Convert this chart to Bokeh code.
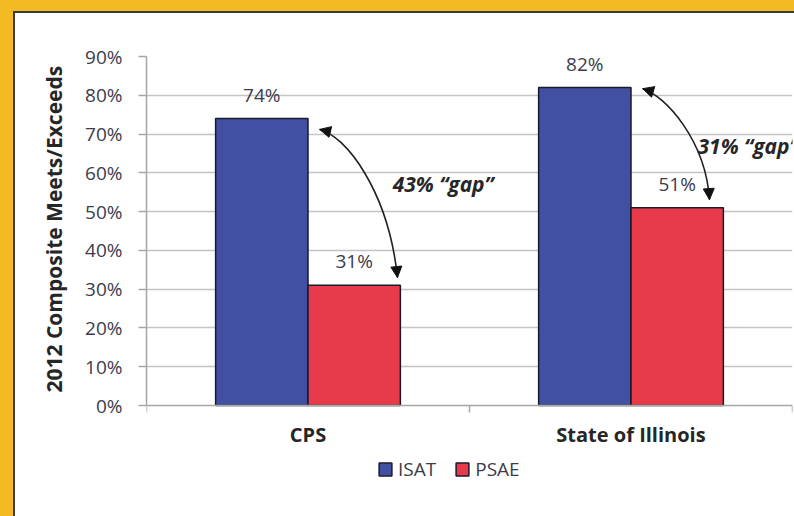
from bokeh.plotting import figure
from bokeh.models import (Range1d, FixedTicker, NumeralTickFormatter, ColumnDataSource,
                          Legend, LegendItem, Arrow, NormalHead, Title)
from bokeh.core.properties import value
from bokeh.embed import file_html
from bokeh.resources import INLINE

# ---- data ----
categories = ["CPS", "State of Illinois"]
series_names = ["ISAT", "PSAE"]
isat = [0.74, 0.82]
psae = [0.31, 0.51]
y_ticks = [0.0, 0.1, 0.2, 0.3, 0.4, 0.5, 0.6, 0.7, 0.8, 0.9]
y_title = "2012 Composite Meets/Exceeds"

# ---- styling ----
FONT = "Open Sans"
TXT = "#3c3c4c"
BLUE = "#4150a2"
RED = "#e83a4a"
YELLOW = "#f4ba24"
DARK = "#3a3a3a"
BW = 0.286          # bar width in category units
Y_LOW = -0.2862     # room below the 0 line (category labels + legend) inside the frame

centers = [i + 0.5 for i in range(len(categories))]
x_isat = [c - BW / 2 for c in centers]
x_psae = [c + BW / 2 for c in centers]

p = figure(width=779, height=503, output_backend="svg", toolbar_location=None,
           x_range=Range1d(0, 2), y_range=Range1d(Y_LOW, y_ticks[-1]),
           min_border_left=131, min_border_right=2, min_border_top=43, min_border_bottom=0)
p.outline_line_color = None
p.background_fill_color = "white"
p.border_fill_color = "white"
p.styles = {
    "transform": "translate(15px, 13px)",
    "box-shadow": (f"-2px -2px 0 0 {DARK}, 0 -2px 0 0 {DARK}, -2px 2px 0 0 {DARK}, "
                   f"-15px -13px 0 0 {YELLOW}, 0 -13px 0 0 {YELLOW}, -15px 0 0 0 {YELLOW}"),
}

# bars
src_i = ColumnDataSource(dict(x=x_isat, top=isat, lab=[f"{round(v*100)}%" for v in isat]))
src_p = ColumnDataSource(dict(x=x_psae, top=psae, lab=[f"{round(v*100)}%" for v in psae]))
r_i = p.vbar(x="x", top="top", bottom=0, width=BW, source=src_i, fill_color=BLUE,
             line_color="#1a1a2a", line_width=1.5)
r_p = p.vbar(x="x", top="top", bottom=0, width=BW, source=src_p, fill_color=RED,
             line_color="#1a1a2a", line_width=1.5)

for s in (src_i, src_p):
    p.text(x="x", y="top", text="lab", source=s, text_align="center", text_baseline="middle",
           y_offset=-24, text_font=value(FONT), text_font_size="19px", text_color=TXT)

# gap arrows (geometry relative to group centre / bar tops, in data units)
arrow_geom = [
    dict(p0=(0.036, -0.028), p1=(0.116, -0.044), p2=(0.249, 0.244), p3=(0.277, 0.020), t=(0.262, 0.047)),
    dict(p0=(0.036, -0.003), p1=(0.107, -0.021), p2=(0.231, 0.173), p3=(0.243, 0.021), t=(0.206, 0.003)),
]
bz = dict(x0=[], y0=[], x1=[], y1=[], cx0=[], cy0=[], cx1=[], cy1=[])
gap = dict(x=[], y=[], text=[])
for c, a, b, g in zip(centers, isat, psae, arrow_geom):
    bz["x0"].append(c + g["p0"][0]); bz["y0"].append(a + g["p0"][1])
    bz["cx0"].append(c + g["p1"][0]); bz["cy0"].append(a + g["p1"][1])
    bz["cx1"].append(c + g["p2"][0]); bz["cy1"].append(b + g["p2"][1])
    bz["x1"].append(c + g["p3"][0]); bz["y1"].append(b + g["p3"][1])
    gap["x"].append(c + g["t"][0]); gap["y"].append((a + b) / 2 + g["t"][1])
    gap["text"].append(f"{round((a - b) * 100)}% \u201cgap\u201d")

p.bezier(x0="x0", y0="y0", x1="x1", y1="y1", cx0="cx0", cy0="cy0", cx1="cx1", cy1="cy1",
         source=ColumnDataSource(bz), line_color="#222222", line_width=1.6)
p.add_layout(Arrow(end=NormalHead(size=11, fill_color="#111111", line_color="#111111"),
                   x_start="cx0", y_start="cy0", x_end="x0", y_end="y0",
                   source=ColumnDataSource(bz), line_alpha=0))
p.add_layout(Arrow(end=NormalHead(size=11, fill_color="#111111", line_color="#111111"),
                   x_start="cx1", y_start="cy1", x_end="x1", y_end="y1",
                   source=ColumnDataSource(bz), line_alpha=0))
p.text(x="x", y="y", text="text", source=ColumnDataSource(gap), text_align="left",
       text_baseline="middle", text_font=value(FONT), text_font_style="bold italic",
       text_font_size="21px", text_color="#262626")

# axes / grid
p.yaxis.ticker = FixedTicker(ticks=y_ticks)
p.yaxis.bounds = (y_ticks[0], y_ticks[-1])
p.yaxis.formatter = NumeralTickFormatter(format="0%")
p.yaxis.major_label_text_font = FONT
p.yaxis.major_label_text_font_size = "19px"
p.yaxis.major_label_text_color = TXT
p.yaxis.major_tick_out = 8
p.yaxis.major_tick_in = 0
p.yaxis.major_tick_line_color = "#a6a6a6"
p.yaxis.major_tick_line_width = 1.5
p.yaxis.minor_tick_line_color = None
p.yaxis.axis_line_color = "#a6a6a6"
p.yaxis.axis_line_width = 1.5
p.yaxis.major_label_standoff = 16

# y-axis title, aligned to the 0..90% part of the axis
p.add_layout(Title(text=y_title, align="left", offset=124, standoff=30,
                   text_font=FONT, text_font_style="bold", text_font_size="21px",
                   text_color="#262626"), "left")

p.xaxis.fixed_location = 0
p.xaxis.ticker = FixedTicker(ticks=centers, minor_ticks=[0, 1, 2])
p.xaxis.major_label_overrides = {c: n for c, n in zip(centers, categories)}
p.xaxis.major_tick_out = 0
p.xaxis.major_tick_in = 0
p.xaxis.minor_tick_out = 7
p.xaxis.minor_tick_in = 0
p.xaxis.minor_tick_line_color = "#a6a6a6"
p.xaxis.minor_tick_line_width = 1.5
p.xaxis.axis_line_color = "#a6a6a6"
p.xaxis.axis_line_width = 1.5
p.xaxis.major_label_text_font = FONT
p.xaxis.major_label_text_font_style = "bold"
p.xaxis.major_label_text_font_size = "20px"
p.xaxis.major_label_text_color = "#262626"
p.xaxis.major_label_standoff = 8

p.xgrid.grid_line_color = None
p.ygrid.ticker = FixedTicker(ticks=y_ticks[1:])
p.ygrid.grid_line_color = "#c4c4c4"
p.ygrid.grid_line_width = 1.5

legend = Legend(items=[LegendItem(label=series_names[0], renderers=[r_i]),
                       LegendItem(label=series_names[1], renderers=[r_p])],
                orientation="horizontal", location=(231, 34),
                border_line_alpha=0, background_fill_alpha=0,
                glyph_width=16, glyph_height=16, label_standoff=5, spacing=18,
                padding=0, margin=0,
                label_text_font=FONT, label_text_font_size="19px", label_text_color=TXT)
p.add_layout(legend)

open("out.html", "w").write(file_html(p, INLINE))
